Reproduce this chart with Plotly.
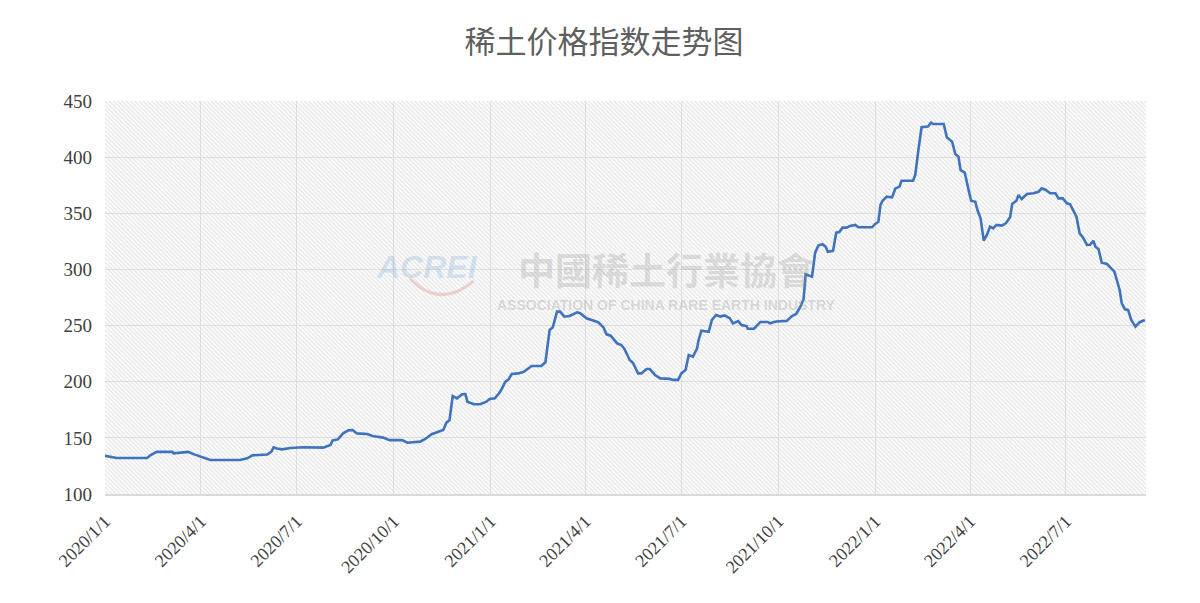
import pandas as pd
import plotly.graph_objects as go

# ---- data ----
START_DATE = "2020-01-01"
END_DAY = 988  # last trading day offset (~2022-09-15)

# day offsets from 2020-01-01
days = [0, 11, 40, 43, 49, 64, 65, 79, 84, 90, 95, 100, 128, 135, 140, 154, 158, 160, 163, 168,
        176, 188, 207, 214, 216, 221, 226, 231, 235, 239, 249, 254, 264, 270, 282, 287, 299, 304, 310, 318,
        321, 324, 327, 330, 334, 339, 342, 344, 350, 356, 362, 365, 370, 374, 376, 380, 383, 386, 392, 397,
        402, 405, 414, 418, 422, 425, 429, 432, 436, 441, 448, 451, 457, 463, 468, 473, 476, 480, 486, 490,
        493, 498, 501, 506, 509, 514, 517, 522, 527, 536, 539, 544, 547, 551, 554, 558, 562, 563, 566, 573,
        576, 580, 584, 588, 593, 596, 601, 604, 609, 610, 616, 622, 629, 631, 637, 647, 652, 656, 660, 663,
        665, 671, 674, 677, 681, 684, 686, 691, 694, 697, 700, 704, 707, 712, 715, 728, 731, 734, 736, 738,
        742, 747, 750, 754, 756, 767, 769, 772, 775, 781, 784, 786, 796, 799, 804, 807, 810, 812, 816, 820,
        822, 826, 828, 831, 834, 837, 840, 843, 846, 851, 855, 859, 861, 865, 867, 870, 875, 881, 886, 889,
        893, 897, 902, 905, 909, 913, 916, 922, 925, 928, 932, 935, 938, 940, 943, 946, 951, 955, 958, 963,
        965, 968, 971, 974, 978, 982, 987]

index_values = [134.0, 132.0, 132.0, 134.5, 137.5, 137.5, 136.2, 137.5, 135.5, 133.8, 131.8, 130.3, 130.3, 131.8, 134.4, 135.2, 137.7, 141.6, 140.5, 139.8,
                141.0, 141.6, 141.3, 143.6, 147.7, 148.6, 154.0, 156.7, 157.0, 154.0, 153.4, 151.6, 150.2, 148.0, 148.0, 145.7, 146.6, 149.0, 153.2, 155.5,
                157.0, 163.5, 165.9, 187.3, 185.2, 188.8, 189.0, 182.2, 179.9, 179.9, 182.2, 184.6, 185.2, 189.7, 192.6, 200.0, 202.1, 206.9, 207.4, 208.7,
                211.9, 214.0, 214.0, 217.3, 246.1, 248.5, 262.4, 262.4, 257.9, 258.5, 261.8, 261.0, 256.5, 254.4, 253.0, 248.5, 242.2, 241.0, 234.2, 232.7,
                229.1, 219.3, 216.9, 207.4, 207.4, 211.3, 211.3, 206.0, 203.0, 202.5, 201.6, 201.6, 207.4, 210.4, 223.8, 222.3, 229.7, 235.6, 245.4, 244.5,
                255.0, 259.4, 258.0, 259.0, 256.5, 252.0, 254.0, 250.5, 249.5, 247.2, 247.2, 253.2, 253.2, 252.0, 253.6, 254.2, 258.5, 260.3, 266.8, 273.4,
                295.7, 293.6, 315.0, 321.2, 322.4, 320.2, 315.8, 316.6, 332.7, 333.3, 337.2, 337.2, 338.7, 339.6, 337.5, 337.5, 340.5, 342.5, 357.4, 361.2,
                364.8, 364.2, 371.9, 373.7, 379.0, 379.0, 384.1, 406.4, 426.6, 427.2, 430.7, 429.5, 429.5, 417.6, 413.8, 402.8, 400.4, 388.5, 386.2, 369.2,
                361.2, 360.3, 352.9, 345.5, 325.6, 330.7, 338.1, 336.6, 339.6, 339.0, 341.1, 346.4, 358.3, 361.2, 366.3, 362.7, 367.2, 367.8, 369.2, 372.2,
                370.8, 367.8, 367.8, 363.3, 363.3, 358.9, 358.0, 347.0, 332.2, 328.7, 321.8, 322.0, 325.6, 320.2, 317.9, 306.0, 304.8, 301.0, 298.0, 281.7,
                269.8, 264.5, 264.0, 255.0, 249.0, 253.0, 255.0]

x_tick_dates = ["2020-01-01", "2020-04-01", "2020-07-01", "2020-10-01", "2021-01-01", "2021-04-01",
                "2021-07-01", "2021-10-01", "2022-01-01", "2022-04-01", "2022-07-01"]
x_tick_labels = ["2020/1/1", "2020/4/1", "2020/7/1", "2020/10/1", "2021/1/1", "2021/4/1",
                 "2021/7/1", "2021/10/1", "2022/1/1", "2022/4/1", "2022/7/1"]
y_ticks = [100, 150, 200, 250, 300, 350, 400, 450]

TITLE = "稀土价格指数走势图"

# ---- build ----
start = pd.Timestamp(START_DATE)
dates = start + pd.to_timedelta(days, unit="D")
end = start + pd.Timedelta(days=END_DAY)
y_lo, y_hi = min(y_ticks), max(y_ticks)

fig = go.Figure()

# hatched plot-area background
fig.add_trace(go.Scatter(
    x=[start, end, end, start, start], y=[y_lo, y_lo, y_hi, y_hi, y_lo],
    mode="lines", line=dict(width=0), fill="toself",
    fillcolor="rgba(0,0,0,0)",
    fillpattern=dict(shape="\\", size=3, solidity=0.4, fgcolor="#c8c8c8", bgcolor="rgba(0,0,0,0)"),
    hoverinfo="skip", showlegend=False,
))

fig.add_trace(go.Scatter(
    x=dates, y=index_values, mode="lines",
    line=dict(color="#3f73bd", width=2.6),
    showlegend=False, name="稀土价格指数",
))

# watermark
fig.add_annotation(text="<b><i>ACREI</i></b>", xref="paper", yref="paper", x=0.309, y=0.578,
                   xanchor="center", yanchor="middle", showarrow=False,
                   font=dict(family="Liberation Sans", size=32, color="rgba(120,170,215,0.28)"))
fig.add_shape(type="path", xref="paper", yref="paper",
              path="M 0.293,0.548 Q 0.322,0.47 0.354,0.542",
              line=dict(color="rgba(215,90,90,0.28)", width=3), layer="below")
fig.add_annotation(text="<b>中國稀土行業協會</b>", xref="paper", yref="paper", x=0.539, y=0.572,
                   xanchor="center", yanchor="middle", showarrow=False,
                   font=dict(family="Noto Sans CJK TC", size=37, color="rgba(150,150,150,0.30)"))
fig.add_annotation(text="<b>ASSOCIATION OF CHINA RARE EARTH INDUSTRY</b>", xref="paper", yref="paper",
                   x=0.539, y=0.482, xanchor="center", yanchor="middle", showarrow=False,
                   font=dict(family="Liberation Sans", size=14, color="rgba(150,150,150,0.32)"))

fig.update_layout(
    width=1192, height=595,
    paper_bgcolor="white", plot_bgcolor="white",
    margin=dict(l=97, r=54, t=93, b=109, autoexpand=False),
    title=dict(text=TITLE, x=0.5, xanchor="center", y=0.943, yanchor="middle",
               font=dict(family="Noto Sans CJK SC", size=31, color="#5f5f5f")),
    xaxis=dict(type="date", range=[start, end], tickmode="array",
               tickvals=x_tick_dates, ticktext=x_tick_labels, tickangle=-45,
               showgrid=True, gridcolor="#e4e4e4", gridwidth=1,
               showline=True, linecolor="#d9d9d9", linewidth=1.5,
               ticks="", zeroline=False, automargin=False, ticklabelstandoff=8,
               tickfont=dict(family="Liberation Serif", size=18, color="#404040")),
    yaxis=dict(range=[y_lo, y_hi], tickmode="array", tickvals=y_ticks,
               showgrid=True, gridcolor="#e4e4e4", gridwidth=1,
               showline=False, ticks="", zeroline=False, ticklabelstandoff=12, automargin=False,
               tickfont=dict(family="Liberation Serif", size=19, color="#404040")),
)

fig.write_html("out.html")
